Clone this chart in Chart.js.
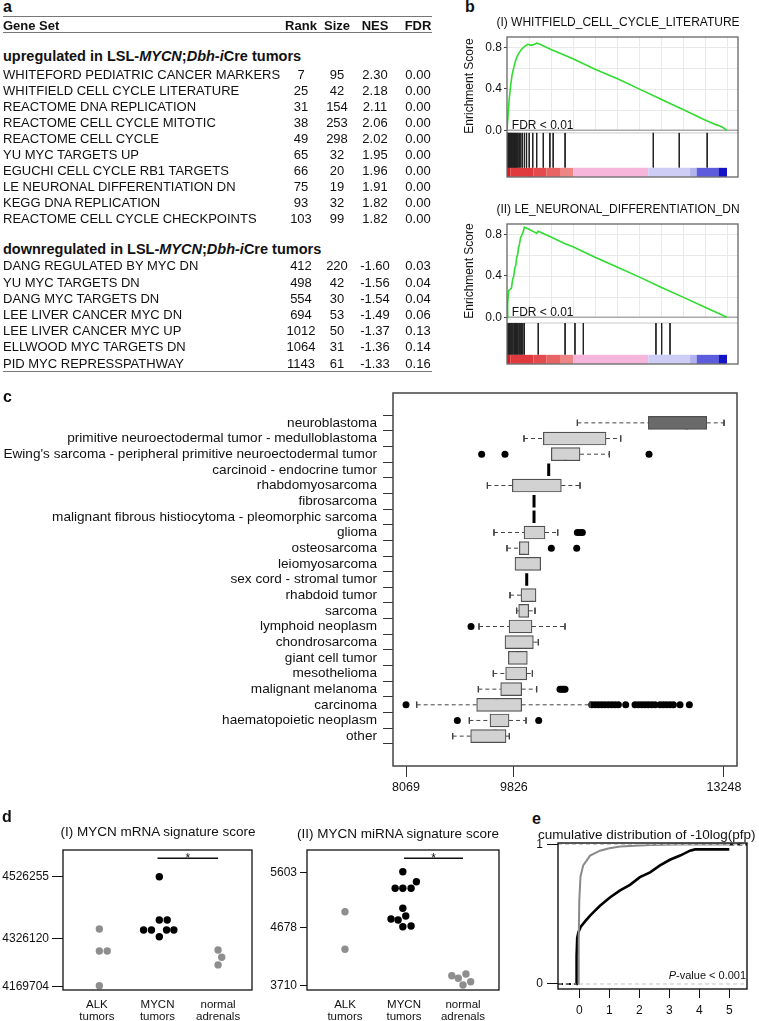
<!DOCTYPE html>
<html>
<head>
<meta charset="utf-8">
<script src="https://cdn.jsdelivr.net/npm/chart.js@4.4.1/dist/chart.umd.min.js"></script>
<style>
  body { margin: 0; background: #fff; font-family: "Liberation Sans", Arial, Helvetica, sans-serif; color: #111; }
  #page { position: relative; width: 759px; height: 1021px; overflow: hidden; }
  .t { position: absolute; white-space: nowrap; }
  .rule { position: absolute; left: 3px; width: 429px; height: 0; border-top: 1.5px solid #777; }
  canvas { position: absolute; }
</style>
</head>
<body>
<div id="page">
  <canvas id="gsea1" width="319" height="155" style="left:440px;top:30px"></canvas>
  <canvas id="gsea2" width="319" height="157" style="left:440px;top:216px"></canvas>
  <canvas id="boxes" width="759" height="420" style="left:0;top:385px"></canvas>
  <canvas id="mrna" width="262" height="181" style="left:0;top:840px"></canvas>
  <canvas id="mirna" width="245" height="181" style="left:262px;top:840px"></canvas>
  <canvas id="cdf" width="252" height="186" style="left:507px;top:835px"></canvas>
</div>
<script>
// ---------- panel a : GSEA table
const upSets = ['WHITEFORD PEDIATRIC CANCER MARKERS', 'WHITFIELD CELL CYCLE LITERATURE', 'REACTOME DNA REPLICATION',
  'REACTOME CELL CYCLE MITOTIC', 'REACTOME CELL CYCLE', 'YU MYC TARGETS UP', 'EGUCHI CELL CYCLE RB1 TARGETS',
  'LE NEURONAL DIFFERENTIATION DN', 'KEGG DNA REPLICATION', 'REACTOME CELL CYCLE CHECKPOINTS'];
const upRank = [7, 25, 31, 38, 49, 65, 66, 75, 93, 103];
const upSize = [95, 42, 154, 253, 298, 32, 20, 19, 32, 99];
const upNes = ['2.30', '2.18', '2.11', '2.06', '2.02', '1.95', '1.96', '1.91', '1.82', '1.82'];
const upFdr = ['0.00', '0.00', '0.00', '0.00', '0.00', '0.00', '0.00', '0.00', '0.00', '0.00'];

const downSets = ['DANG REGULATED BY MYC DN', 'YU MYC TARGETS DN', 'DANG MYC TARGETS DN', 'LEE LIVER CANCER MYC DN',
  'LEE LIVER CANCER MYC UP', 'ELLWOOD MYC TARGETS DN', 'PID MYC REPRESSPATHWAY'];
const downRank = [412, 498, 554, 694, 1012, 1064, 1143];
const downSize = [220, 42, 30, 53, 50, 31, 61];
const downNes = ['-1.60', '-1.56', '-1.54', '-1.49', '-1.37', '-1.36', '-1.33'];
const downFdr = ['0.03', '0.04', '0.04', '0.06', '0.13', '0.14', '0.16'];

// ---------- panel b : running enrichment scores (rank scaled 0..1000)
const es1Rank = [0, 5, 10, 16, 22, 30, 40, 50, 65, 80, 95, 110, 125, 135, 150, 200, 300, 400, 500, 600, 700, 800, 900, 950, 965, 980, 1000];
const es1Score = [0, 0.15, 0.3, 0.42, 0.52, 0.6, 0.68, 0.73, 0.78, 0.81, 0.83, 0.82, 0.83, 0.84, 0.83, 0.78, 0.69, 0.59, 0.5, 0.4, 0.3, 0.2, 0.1, 0.055, 0.045, 0.03, 0];
const es1Hits = [1, 4, 7, 10, 13, 16, 19, 22, 26, 30, 34, 38, 42, 46, 50, 56, 63, 71, 80, 89, 101, 117, 135, 165, 195, 210, 264, 665, 783, 910];

const es2Rank = [0, 3, 8, 14, 20, 26, 30, 36, 40, 44, 48, 52, 56, 62, 67, 73, 79, 100, 135, 142, 200, 264, 300, 400, 500, 600, 700, 800, 900, 1000];
const es2Score = [0, 0.14, 0.26, 0.27, 0.28, 0.37, 0.39, 0.48, 0.5, 0.58, 0.6, 0.67, 0.7, 0.77, 0.79, 0.82, 0.87, 0.85, 0.81, 0.83, 0.775, 0.71, 0.68, 0.58, 0.485, 0.39, 0.29, 0.195, 0.097, 0];
const es2Hits = [2, 6, 11, 17, 22, 27, 33, 38, 44, 49, 55, 60, 66, 72, 79, 142, 264, 309, 347, 677, 703, 741];

const rankBarEdges = [0, 15, 120, 180, 241, 301, 642, 832, 862, 961, 1000];
const rankBarColors = ['#d01e24', '#e03a3e', '#e34b4e', '#e86464', '#ef8686', '#f6b6dc', '#cdcdf5', '#b2b2ef', '#5c5cdc', '#1414c4'];

// ---------- panel c : MYCN signature score per tumour type
const tumorTypes = ['neuroblastoma', 'primitive neuroectodermal tumor - medulloblastoma',
  "Ewing's sarcoma - peripheral primitive neuroectodermal tumor", 'carcinoid - endocrine tumor', 'rhabdomyosarcoma',
  'fibrosarcoma', 'malignant fibrous histiocytoma - pleomorphic sarcoma', 'glioma', 'osteosarcoma', 'leiomyosarcoma',
  'sex cord - stromal tumor', 'rhabdoid tumor', 'sarcoma', 'lymphoid neoplasm', 'chondrosarcoma', 'giant cell tumor',
  'mesothelioma', 'malignant melanoma', 'carcinoma', 'haematopoietic neoplasm', 'other'];
const boxLow =  [10860, 9991, 10436, 10393, 9394, 10154, 10154, 9502, 9714, 9844, 10035, 9763, 9871, 9258, 9681, 9736, 9491, 9247, 8243, 9100, 8829];
const boxQ1 =   [12016, 10306, 10436, 10393, 9801, 10154, 10154, 9991, 9915, 9844, 10035, 9942, 9904, 9747, 9681, 9736, 9692, 9611, 9220, 9437, 9122];
const boxMed =  [12641, 10838, 10664, 10393, 10322, 10154, 10154, 10116, 9980, 10051, 10035, 10116, 9953, 9926, 9872, 9888, 9817, 9828, 9546, 9557, 9524];
const boxQ3 =   [12967, 11327, 10903, 10393, 10599, 10154, 10154, 10333, 10072, 10262, 10035, 10186, 10067, 10121, 10143, 10045, 10035, 9953, 9953, 9747, 9698];
const boxHigh = [13249, 11566, 11381, 10393, 10903, 10154, 10154, 10540, 10072, 10262, 10035, 10186, 10170, 10659, 10224, 10045, 10127, 10197, 11066, 10024, 9752];
const boxOutliers = [[], [], [9301, 9681, 12027], [], [], [], [], [10860, 10903, 10941], [10436, 10849], [], [], [], [],
  [9128], [], [], [], [10577, 10605, 10632, 10659],
  [8069, 11093, 11148, 11202, 11256, 11310, 11365, 11419, 11473, 11528, 11647, 11799, 11854, 11908, 11962, 12016, 12071,
   12125, 12206, 12261, 12315, 12369, 12424, 12532, 12684],
  [8905, 10230], []];
const scoreTicks = [8069, 9826, 13248];

// ---------- panel d : signature scores in mouse samples (x = group + beeswarm offset)
const groupLabels = [['ALK', 'tumors'], ['MYCN', 'tumors'], ['normal', 'adrenals']];
const mrnaAlkX = [1.04, 1.04, 1.17, 1.04];
const mrnaAlkY = [4357320, 4285820, 4285820, 4173045];
const mrnaMycnX = [2.03, 2.03, 2.16, 1.77, 1.9, 2.03, 2.15, 2.27];
const mrnaMycnY = [4527295, 4386570, 4386570, 4354070, 4354070, 4332295, 4354070, 4354070];
const mrnaNormX = [3.0, 3.06, 3.0];
const mrnaNormY = [4289070, 4265345, 4240520];
const mrnaTicks = [4169704, 4326120, 4526255];
const mrnaSig = [2, 3, 4587095];

const mirnaAlkX = [1.0, 1.0];
const mirnaAlkY = [4947, 4321];
const mirnaMycnX = [1.98, 2.21, 1.85, 1.98, 2.12, 1.98, 1.78, 1.9, 2.03, 1.98, 2.12];
const mirnaMycnY = [5613, 5446, 5337, 5337, 5337, 5004, 4825, 4809, 4875, 4697, 4709];
const mirnaNormX = [2.81, 2.92, 3.05, 3.0, 3.13];
const mirnaNormY = [3881, 3838, 3910, 3727, 3781];
const mirnaTicks = [3710, 4678, 5603];
const mirnaSig = [2, 3, 5836];

// ---------- panel e : cumulative distribution of -10log(pfp)
const cdfGrayX = [-0.03, -0.02, 0.0, 0.04, 0.13, 0.36, 0.69, 1.0, 1.36, 2.36, 3.36, 5.0];
const cdfGrayY = [0, 0.3, 0.6, 0.77, 0.85, 0.92, 0.955, 0.972, 0.985, 0.996, 1.0, 1.0];
const cdfBlackX = [-0.1, -0.09, -0.07, -0.03, 0.05, 0.2, 0.36, 0.5, 0.69, 1.02, 1.36, 1.69, 2.02, 2.36, 2.69, 3.02, 3.36, 3.69, 3.86, 5.0];
const cdfBlackY = [0, 0.2, 0.33, 0.37, 0.41, 0.45, 0.49, 0.52, 0.56, 0.62, 0.67, 0.71, 0.765, 0.8, 0.85, 0.89, 0.92, 0.955, 0.964, 0.964];
const cdfTicksX = [0, 1, 2, 3, 4, 5];


// ================= page text (panel letters, table, titles)
const page = document.getElementById('page');
function addText(html, x, base, size, opt = {}) {
  const d = document.createElement('div');
  d.className = 't';
  d.innerHTML = html;
  d.style.fontSize = size + 'px';
  d.style.lineHeight = size + 'px';
  d.style.top = (base - 0.8465 * size) + 'px';
  if (opt.bold) d.style.fontWeight = 'bold';
  if (opt.align === 'center') {
    d.style.left = (x - 150) + 'px'; d.style.width = '300px'; d.style.textAlign = 'center';
  } else {
    d.style.left = x + 'px';
  }
  page.appendChild(d);
}
function addRule(y) {
  const r = document.createElement('div');
  r.className = 'rule';
  r.style.top = y + 'px';
  page.appendChild(r);
}

addText('a', 3, 13, 16, {bold: true});
addText('b', 465, 13, 16, {bold: true});
addText('c', 3, 403, 16, {bold: true});
addText('d', 2, 823, 16, {bold: true});
addText('e', 532, 825, 16, {bold: true});

const colX = [301, 337, 375, 418];
addRule(16);
addText('Gene Set', 3, 30.5, 13, {bold: true});
['Rank', 'Size', 'NES', 'FDR'].forEach((h, i) => addText(h, colX[i], 30.5, 13, {bold: true, align: 'center'}));
addRule(32);

addText('upregulated in LSL-<i>MYCN</i>;<i>Dbh-i</i>Cre tumors', 3, 61.5, 14.5, {bold: true});
upSets.forEach((s, i) => {
  const b = 79.5 + 16 * i;
  addText(s, 3, b, 13);
  [upRank[i], upSize[i], upNes[i], upFdr[i]].forEach((v, j) => addText(String(v), colX[j], b, 13, {align: 'center'}));
});
addText('downregulated in LSL-<i>MYCN</i>;<i>Dbh-i</i>Cre tumors', 3, 254.5, 14.5, {bold: true});
downSets.forEach((s, i) => {
  const b = 270.5 + 16.2 * i;
  addText(s, 3, b, 13);
  [downRank[i], downSize[i], downNes[i], downFdr[i]].forEach((v, j) => addText(String(v), colX[j], b, 13, {align: 'center'}));
});
addRule(370.5);

addText('(I) WHITFIELD_CELL_CYCLE_LITERATURE', 618, 26.5, 12, {align: 'center'});
addText('(II) LE_NEURONAL_DIFFERENTIATION_DN', 618, 213.5, 12, {align: 'center'});
addText('(I) MYCN mRNA signature score', 158, 836.5, 13.5, {align: 'center'});
addText('(II) MYCN miRNA signature score', 398, 838, 13.5, {align: 'center'});
addText('cumulative distribution of -10log(pfp)', 538, 839, 13.5);

function addVTitle(text, cx, cy) {
  const d = document.createElement('div');
  d.className = 't';
  d.textContent = text;
  d.style.fontSize = '12px';
  d.style.lineHeight = '14px';
  d.style.left = cx + 'px';
  d.style.top = cy + 'px';
  d.style.transform = 'translate(-50%, -50%) rotate(-90deg)';
  page.appendChild(d);
}
addVTitle('Enrichment Score', 469, 86);
addVTitle('Enrichment Score', 469, 271);


// ================= Chart.js setup
const FONT = '"Liberation Sans", Arial, Helvetica, sans-serif';
Chart.defaults.font.family = FONT;
Chart.defaults.font.size = 12;
Chart.defaults.color = '#111';
Chart.defaults.animation = false;
Chart.defaults.responsive = false;
Chart.defaults.plugins.legend.display = false;
Chart.defaults.plugins.tooltip.enabled = false;

// frame, partial grid, reference lines and in-plot text
const decor = {
  id: 'decor',
  beforeDatasetsDraw(chart, args, o) {
    const {ctx, chartArea: a, scales: {x, y}} = chart;
    ctx.save();
    if (o.grid) {
      ctx.strokeStyle = o.grid.color;
      ctx.lineWidth = 1;
      ctx.beginPath();
      o.grid.xs.forEach(v => {
        const px = Math.round(x.getPixelForValue(v)) + 0.5;
        ctx.moveTo(px, y.getPixelForValue(o.grid.yTop));
        ctx.lineTo(px, y.getPixelForValue(o.grid.yBottom));
      });
      o.grid.ys.forEach(v => {
        const py = Math.round(y.getPixelForValue(v)) + 0.5;
        ctx.moveTo(a.left, py);
        ctx.lineTo(a.right, py);
      });
      ctx.stroke();
    }
    (o.hlines || []).forEach(h => {
      ctx.strokeStyle = h.color;
      ctx.lineWidth = h.width;
      ctx.beginPath();
      const py = y.getPixelForValue(h.y);
      ctx.moveTo(a.left, py);
      ctx.lineTo(a.right, py);
      ctx.stroke();
    });
    ctx.restore();
  },
  afterDatasetsDraw(chart, args, o) {
    const {ctx, chartArea: a, scales: {x, y}} = chart;
    ctx.save();
    (o.texts || []).forEach(t => {
      const parts = t.parts || [{text: t.text}];
      const fontOf = p => `${p.style || ''} ${t.size || 12}px ${FONT}`;
      const widths = parts.map(p => { ctx.font = fontOf(p); return ctx.measureText(p.text).width; });
      const total = widths.reduce((s, w) => s + w, 0);
      let px = x.getPixelForValue(t.x);
      if (t.align === 'right') px -= total;
      else if (t.align === 'center') px -= total / 2;
      const py = y.getPixelForValue(t.y);
      ctx.fillStyle = t.color || '#111';
      ctx.textBaseline = t.baseline || 'middle';
      parts.forEach((p, i) => {
        ctx.font = fontOf(p);
        ctx.fillText(p.text, px, py);
        px += widths[i];
      });
    });
    if (o.frame) {
      ctx.strokeStyle = o.frame.color;
      ctx.lineWidth = o.frame.width;
      ctx.strokeRect(a.left, a.top, a.width, a.height);
    }
    ctx.restore();
  }
};
Chart.register(decor);

function fixSize(size) {
  return s => {
    if (s.isHorizontal()) s.height = size; else s.width = size;
    s.paddingLeft = s.paddingRight = s.paddingTop = s.paddingBottom = 0;
  };
}
function setTicks(vals) {
  return s => { s.ticks = vals.map(v => ({value: v})); };
}
function zip(xs, ys) {
  return xs.map((v, i) => ({x: v, y: ys[i]}));
}
function segments(list) {
  const pts = [];
  list.forEach(s => pts.push({x: s[0], y: s[1]}, {x: s[2], y: s[3]}, {x: s[0], y: null}));
  return pts;
}
function lineSet(points, color, width, extra) {
  return Object.assign({type: 'line', data: points, borderColor: color, borderWidth: width,
    pointRadius: 0, fill: false, tension: 0}, extra || {});
}
function dots(xs, ys, color) {
  return {type: 'scatter', data: zip(xs, ys), pointRadius: 3.7, backgroundColor: color, borderWidth: 0};
}


// ================= panel b
const HIT_BOTTOM = -0.36, BAR_Y = -0.405;
function gseaChart(id, rank, score, hits, hitTop, padTop, padBottom) {
  new Chart(document.getElementById(id), {
    type: 'scatter',
    data: {
      datasets: [
        lineSet(rankBarEdges.map(v => ({x: v, y: BAR_Y})), '#e03a3e', 9, {
          borderCapStyle: 'butt',
          segment: {borderColor: c => rankBarColors[c.p0DataIndex]}
        }),
        lineSet(segments(hits.map(h => [h, hitTop, h, HIT_BOTTOM])), '#222', 1),
        lineSet(zip(rank, score), '#2fdc2f', 1.6)
      ]
    },
    options: {
      layout: {padding: {top: padTop, right: 21, bottom: padBottom, left: 0}},
      scales: {
        x: {type: 'linear', min: 0, max: 1050, display: false},
        y: {
          type: 'linear', min: -0.45, max: 0.9,
          afterBuildTicks: setTicks([0, 0.4, 0.8]), afterFit: fixSize(67),
          ticks: {callback: v => v.toFixed(1), padding: 2, font: {size: 12}},
          grid: {drawOnChartArea: false, tickLength: 3, color: '#444'},
          border: {display: false}
        }
      },
      plugins: {
        decor: {
          frame: {color: '#666', width: 1.3},
          grid: {color: '#e9e9e9', xs: [100, 200, 300, 400, 500, 600, 700, 800, 900, 1000], ys: [0.2, 0.4, 0.6, 0.8], yTop: 0.9, yBottom: 0},
          hlines: [{y: 0, color: '#aaa', width: 1.5}, {y: hitTop, color: '#c8c8c8', width: 1}],
          texts: [{x: 22, y: 0.045, text: 'FDR < 0.01', size: 12}]
        }
      }
    }
  });
}
gseaChart('gsea1', es1Rank, es1Score, es1Hits, -0.025, 7, 8);
gseaChart('gsea2', es2Rank, es2Score, es2Hits, -0.055, 8, 9);


// ================= panel c
const rows = tumorTypes.map((_, i) => i);
const boxRows = rows.filter(i => boxQ3[i] > boxQ1[i]);
const whiskers = [], caps = [];
rows.forEach(i => {
  if (boxLow[i] < boxQ1[i]) { whiskers.push([boxLow[i], i, boxQ1[i], i]); caps.push([boxLow[i], i - 0.2, boxLow[i], i + 0.2]); }
  if (boxHigh[i] > boxQ3[i]) { whiskers.push([boxQ3[i], i, boxHigh[i], i]); caps.push([boxHigh[i], i - 0.2, boxHigh[i], i + 0.2]); }
});
const outlierPts = [];
boxOutliers.forEach((list, i) => list.forEach(v => outlierPts.push({x: v, y: i})));

new Chart(document.getElementById('boxes'), {
  type: 'scatter',
  data: {
    datasets: [
      lineSet(segments(whiskers), '#444', 1, {borderDash: [4, 3]}),
      lineSet(segments(caps), '#444', 1),
      {
        type: 'bar', indexAxis: 'y', barThickness: 13, borderSkipped: false,
        data: boxRows.map(i => ({y: i, x: [boxQ1[i], boxQ3[i]]})),
        backgroundColor: boxRows.map(i => i === 0 ? '#6a6a6a' : '#d2d2d2'),
        borderColor: '#505050', borderWidth: 1.2
      },
      lineSet(segments(rows.map(i => [boxMed[i], i - 0.4, boxMed[i], i + 0.4])), '#000', 3, {borderCapStyle: 'butt'}),
      {type: 'scatter', data: outlierPts, pointRadius: 3.5, backgroundColor: '#000', borderWidth: 0}
    ]
  },
  options: {
    layout: {padding: {top: 8, right: 22, bottom: 0, left: 0}},
    scales: {
      x: {
        type: 'linear', min: 7857, max: 13460,
        afterBuildTicks: setTicks(scoreTicks), afterFit: fixSize(39),
        ticks: {padding: 3, font: {size: 12.5}, callback: v => String(v)},
        grid: {drawOnChartArea: false, tickLength: 11, color: '#333'},
        border: {display: false}
      },
      y: {
        type: 'linear', reverse: true, min: -1.34, max: 21.34,
        afterBuildTicks: setTicks(rows), afterFit: fixSize(393),
        ticks: {padding: 6, autoSkip: false, font: {size: 13.6}, callback: v => tumorTypes[v]},
        grid: {drawOnChartArea: false, tickLength: 10, color: '#333'},
        border: {display: false}
      }
    },
    plugins: {decor: {frame: {color: '#444', width: 1.5}}}
  }
});


// ================= panel d
function sigChart(id, sets, ticks, yMin, yMax, xMin, xMax, axisW, tickLen, padRight, sig) {
  new Chart(document.getElementById(id), {
    type: 'scatter',
    data: {
      datasets: [
        dots(sets[0], sets[1], '#8e8e8e'),
        dots(sets[2], sets[3], '#000'),
        dots(sets[4], sets[5], '#8e8e8e'),
        lineSet([{x: sig[0], y: sig[2]}, {x: sig[1], y: sig[2]}], '#111', 1.5)
      ]
    },
    options: {
      layout: {padding: {top: 10, right: padRight, bottom: 0, left: 0}},
      scales: {
        x: {
          type: 'linear', min: xMin, max: xMax,
          afterBuildTicks: setTicks([1, 2, 3]), afterFit: fixSize(31),
          ticks: {padding: 1, font: {size: 11.5, lineHeight: 1.05}, callback: v => groupLabels[v - 1]},
          grid: {display: false}, border: {display: false}
        },
        y: {
          type: 'linear', min: yMin, max: yMax,
          afterBuildTicks: setTicks(ticks), afterFit: fixSize(axisW),
          ticks: {padding: 3, font: {size: 12}, callback: v => String(v)},
          grid: {drawOnChartArea: false, tickLength: tickLen, color: '#111'},
          border: {display: false}
        }
      },
      plugins: {
        decor: {
          frame: {color: '#111', width: 1.3},
          texts: [{x: (sig[0] + sig[1]) / 2, y: sig[2], text: '*', size: 12, align: 'center', baseline: 'middle'}]
        }
      }
    }
  });
}
sigChart('mrna', [mrnaAlkX, mrnaAlkY, mrnaMycnX, mrnaMycnY, mrnaNormX, mrnaNormY], mrnaTicks,
  4158979, 4614005, 0.44, 3.56, 63, 11, 10, mrnaSig);
sigChart('mirna', [mirnaAlkX, mirnaAlkY, mirnaMycnX, mirnaMycnY, mirnaNormX, mirnaNormY], mirnaTicks,
  3643, 5974, 0.356, 3.61, 45, 7, 8, mirnaSig);


// ================= panel e
const E_XMIN = -0.71, E_XMAX = 5.59;
new Chart(document.getElementById('cdf'), {
  type: 'scatter',
  data: {
    datasets: [
      lineSet([{x: E_XMIN, y: 0}, {x: E_XMAX, y: 0}], '#c4c4c4', 1, {borderDash: [4, 3]}),
      lineSet([{x: E_XMIN, y: 1}, {x: E_XMAX, y: 1}], '#c4c4c4', 1, {borderDash: [4, 3]}),
      lineSet([{x: E_XMIN, y: 0}, {x: cdfBlackX[0], y: 0}], '#111', 2, {borderDash: [5, 3]}),
      lineSet([{x: cdfGrayX[cdfGrayX.length - 1], y: 1}, {x: E_XMAX, y: 1}], '#111', 2, {borderDash: [5, 3]}),
      lineSet(zip(cdfGrayX, cdfGrayY), '#8a8a8a', 2),
      lineSet(zip(cdfBlackX, cdfBlackY), '#000', 2.6)
    ]
  },
  options: {
    layout: {padding: {top: 8, right: 12, bottom: 0, left: 0}},
    scales: {
      x: {
        type: 'linear', min: E_XMIN, max: E_XMAX,
        afterBuildTicks: setTicks(cdfTicksX), afterFit: fixSize(32),
        ticks: {padding: 5, font: {size: 12}},
        grid: {drawOnChartArea: false, tickLength: 9, color: '#111'},
        border: {display: false}
      },
      y: {
        type: 'linear', min: -0.036, max: 1.01,
        afterBuildTicks: setTicks([0, 1]), afterFit: fixSize(51),
        ticks: {padding: 4, font: {size: 12}},
        grid: {drawOnChartArea: false, tickLength: 11, color: '#111'},
        border: {display: false}
      }
    },
    plugins: {
      decor: {
        frame: {color: '#111', width: 1.4},
        texts: [{x: 5.56, y: 0.057, size: 11, align: 'right', parts: [{text: 'P', style: 'italic'}, {text: '-value < 0.001'}]}]
      }
    }
  }
});
</script>
</body>
</html>
